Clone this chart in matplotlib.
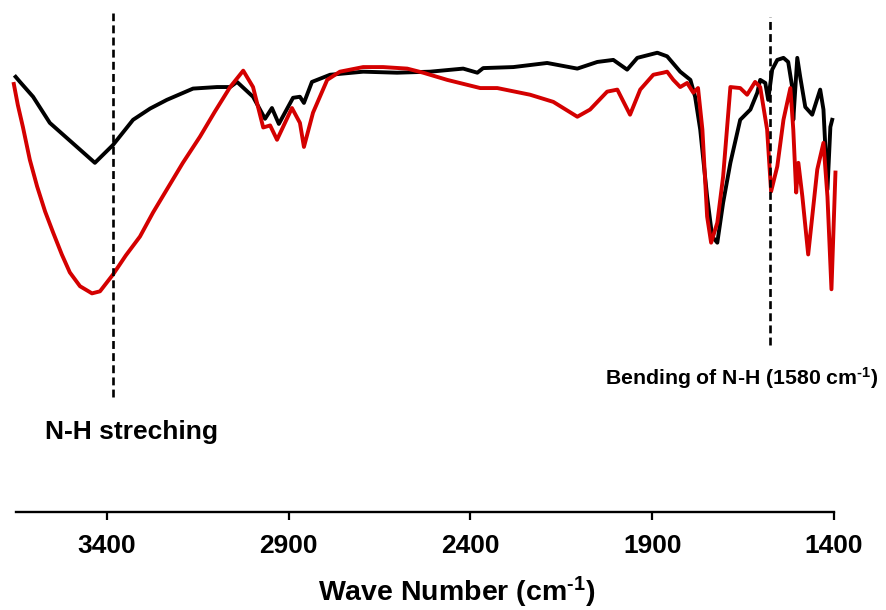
import matplotlib
matplotlib.use("Agg")
import matplotlib.pyplot as plt

plt.rcParams['font.family'] = ['Liberation Sans', 'DejaVu Sans']
plt.rcParams['font.weight'] = 'bold'
plt.rcParams['mathtext.fontset'] = 'custom'
plt.rcParams['mathtext.rm'] = 'Liberation Sans:bold'
plt.rcParams['mathtext.it'] = 'Liberation Sans:bold'
plt.rcParams['mathtext.bf'] = 'Liberation Sans:bold'

# ── data (wave number, transmittance-like arbitrary units)
black_wn = [3651, 3639, 3603, 3557, 3433, 3383, 3328, 3281, 3235, 3163,
            3097, 3061, 3042, 2998, 2965, 2946, 2927, 2888, 2869, 2858,
            2836, 2786, 2695, 2602, 2511, 2420, 2381, 2365, 2282, 2189,
            2106, 2051, 2007, 1969, 1941, 1886, 1859, 1823, 1795, 1782,
            1768, 1749, 1735, 1721, 1705, 1685, 1658, 1630, 1611, 1603,
            1589, 1581, 1570, 1556, 1539, 1526, 1515, 1512, 1501, 1493,
            1479, 1460, 1438, 1429, 1418, 1410, 1405]
black_t = [85.0, 84.0, 81.1, 76.0, 68.2, 71.7, 76.6, 78.8, 80.5, 82.7,
           83.0, 83.0, 84.0, 81.1, 76.8, 78.9, 75.8, 80.9, 81.1, 79.9,
           84.0, 85.4, 86.0, 85.8, 86.0, 86.6, 85.8, 86.7, 86.9, 87.7,
           86.6, 87.9, 88.3, 86.4, 88.7, 89.7, 89.0, 86.0, 84.4, 81.1,
           74.7, 61.6, 53.8, 52.6, 60.4, 68.2, 76.6, 78.6, 81.9, 84.4,
           83.8, 80.5, 86.4, 88.3, 88.7, 87.9, 83.0, 76.6, 88.7, 85.0,
           79.1, 77.6, 82.5, 78.6, 63.0, 75.2, 76.6]

red_wn = [3656, 3645, 3631, 3612, 3592, 3570, 3548, 3524, 3502, 3474,
          3441, 3419, 3383, 3348, 3309, 3273, 3235, 3191, 3144, 3103,
          3061, 3025, 2998, 2970, 2951, 2932, 2891, 2869, 2858, 2833,
          2794, 2759, 2695, 2640, 2574, 2530, 2464, 2373, 2326, 2236,
          2172, 2106, 2071, 2024, 1996, 1961, 1933, 1897, 1870, 1859,
          1842, 1823, 1804, 1787, 1774, 1762, 1749, 1738, 1721, 1705,
          1685, 1658, 1639, 1617, 1603, 1584, 1573, 1556, 1539, 1520,
          1512, 1504, 1498, 1487, 1471, 1446, 1429, 1418, 1407, 1396]
red_t = [83.6, 79.5, 75.2, 68.8, 63.6, 58.7, 54.6, 50.3, 46.8, 44.1,
         42.7, 43.1, 46.4, 50.1, 53.8, 58.5, 63.0, 68.2, 73.3, 78.2,
         83.0, 86.2, 83.0, 75.1, 75.5, 72.7, 78.9, 76.0, 71.3, 78.0,
         84.4, 86.0, 86.9, 86.9, 86.6, 85.8, 84.4, 82.8, 82.8, 81.5,
         80.1, 77.2, 78.6, 82.1, 82.5, 77.6, 82.5, 85.4, 85.8, 86.0,
         84.4, 83.0, 83.8, 81.9, 82.8, 74.7, 57.7, 52.6, 56.5, 65.5,
         83.0, 82.8, 81.5, 84.0, 83.0, 74.7, 62.6, 67.5, 76.6, 82.8,
         74.7, 62.4, 68.2, 61.6, 50.3, 66.9, 72.1, 61.6, 43.5, 66.3]

xticks = [3400, 2900, 2400, 1900, 1400]

# marker lines: (wave number, bottom, top)
nh_stretch = (3382, 22.4, 97.5)
nh_bend = (1575, 32.7, 96.7)

# ── figure
fig = plt.figure(figsize=(8.86, 6.10), dpi=100)
ax = fig.add_axes([16/886, 1 - 512/610, (834 - 16)/886, 512/610])

ax.plot(black_wn, black_t, color='black', lw=2.8, solid_joinstyle='round', clip_on=False)
ax.plot(red_wn, red_t, color='#d40000', lw=2.8, solid_joinstyle='round', clip_on=False)

for wn, lo, hi in (nh_stretch, nh_bend):
    ax.vlines(wn, lo, hi, colors='black', linestyles=(0, (3, 1.6)), lw=1.9)

ax.text(3570, 14.2, "N-H streching", fontsize=19, fontweight='bold',
        ha='left', va='baseline')
ax.text(2029, 24.9, r"Bending of N-H (1580 cm$^{\text{-}1}$)", fontsize=15.3,
        fontweight='bold', ha='left', va='baseline', clip_on=False)

ax.set_xlim(3650, 1400)
ax.set_ylim(0, 100)
ax.set_xticks(xticks)
ax.set_xticklabels([str(t) for t in xticks], fontsize=19, fontweight='bold')
ax.tick_params(axis='x', direction='out', length=6, width=1.6, pad=10)
ax.set_yticks([])
for s in ('left', 'top', 'right'):
    ax.spines[s].set_visible(False)
ax.spines['bottom'].set_linewidth(1.7)

fig.text(456.5/886, 1 - 601/610, r"Wave Number (cm$^{\text{-}1}$)", fontsize=20.5,
         fontweight='bold', ha='center', va='baseline')

fig.savefig("out.png", dpi=100)
